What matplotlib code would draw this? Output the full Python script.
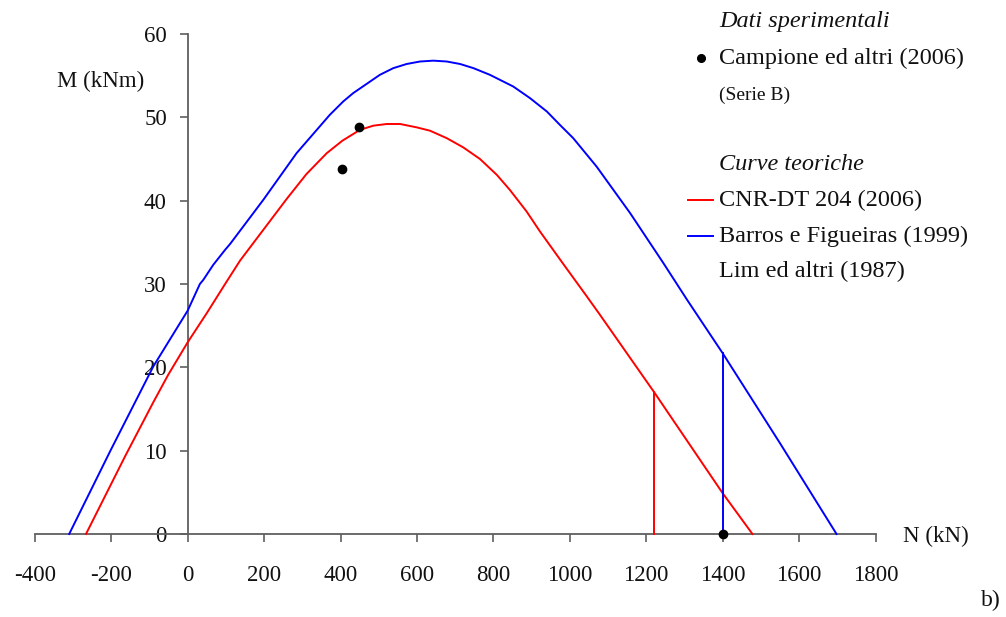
import matplotlib
matplotlib.use("Agg")
import matplotlib.pyplot as plt
from matplotlib.lines import Line2D

# Interaction domain M-N (axial force N in kN, bending moment M in kNm)
barros_N = [-310, -201, -90, 0, 32, 41, 67, 98, 111, 198, 285, 372, 407, 433,
            468, 503, 538, 573, 608, 643, 678, 713, 748, 791, 852, 896, 940,
            974, 1009, 1070, 1158, 1245, 1307, 1400, 1550, 1698]
barros_M = [0.0, 10.1, 20.1, 26.8, 30.0, 30.5, 32.3, 34.1, 34.8, 40.1, 45.7,
            50.3, 51.9, 52.9, 54.0, 55.1, 55.9, 56.4, 56.7, 56.8, 56.7, 56.4,
            55.9, 55.1, 53.7, 52.3, 50.7, 49.1, 47.5, 44.1, 38.5, 32.5, 28.1,
            21.7, 10.9, 0.0]

cnr_N = [-266, -164, -90, -51, 0, 50, 98, 137, 198, 259, 311, 364, 405, 451,
         486, 521, 556, 599, 634, 678, 721, 765, 809, 843, 887, 922, 983,
         1040, 1079, 1221, 1400, 1478]
cnr_M = [0.0, 9.3, 15.8, 19.1, 23.0, 26.5, 30.0, 32.8, 36.5, 40.2, 43.2,
         45.7, 47.2, 48.5, 49.0, 49.2, 49.2, 48.8, 48.4, 47.5, 46.4, 45.0,
         43.1, 41.3, 38.7, 36.3, 32.4, 28.8, 26.3, 17.0, 4.9, 0.0]

# Vertical cut-offs of the theoretical curves
cnr_cut_N, cnr_cut_M = 1221, 17.0
barros_cut_N, barros_cut_M = 1400, 21.7

# Experimental results, Campione et al. (2006), Serie B
exp_N = [404, 449, 1400]
exp_M = [43.8, 48.9, 0.0]

x_ticks = [-400, -200, 0, 200, 400, 600, 800, 1000, 1200, 1400, 1600, 1800]
y_ticks = [0, 10, 20, 30, 40, 50, 60]

RED = "#FF0000"
BLUE = "#0000FF"
AXC = "#5f5f5f"
TXT = "#111111"
SERIF = ["Liberation Serif", "DejaVu Serif"]

plt.rcParams["font.family"] = SERIF

W, H = 1006, 617
fig = plt.figure(figsize=(W / 100, H / 100), dpi=100)
ax = fig.add_axes([34.8 / W, (H - 534) / H, 840.7 / W, 500 / H])

ax.set_xlim(-400, 1800)
ax.set_ylim(0, 60)

ax.plot(cnr_N, cnr_M, color=RED, lw=1.4, clip_on=False, zorder=3)
ax.plot(barros_N, barros_M, color=BLUE, lw=1.4, clip_on=False, zorder=3)
ax.plot([cnr_cut_N, cnr_cut_N], [0, cnr_cut_M], color=RED, lw=1.4,
        clip_on=False, zorder=3)
ax.plot([barros_cut_N, barros_cut_N], [0, barros_cut_M], color=BLUE, lw=1.4,
        clip_on=False, zorder=3)
ax.plot(exp_N, exp_M, "o", color="black", ms=6, clip_on=False, zorder=4)

# Axes crossing at the origin
for side in ("top", "right"):
    ax.spines[side].set_visible(False)
ax.spines["left"].set_position(("data", 0))
ax.spines["bottom"].set_position(("data", 0))
for side in ("left", "bottom"):
    ax.spines[side].set_color(AXC)
    ax.spines[side].set_linewidth(1.3)

ax.set_xticks(x_ticks)
ax.set_yticks(y_ticks)
ax.set_xticklabels([str(v) for v in x_ticks])
ax.set_yticklabels([str(v) for v in y_ticks])
ax.tick_params(axis="x", direction="out", length=6, width=1.2, color=AXC,
               labelsize=16.5, pad=16, labelcolor=TXT)
ax.tick_params(axis="y", direction="out", length=6, width=1.2, color=AXC,
               labelsize=16.5, pad=9, labelcolor=TXT)


def px(x, y):
    return x / W, 1 - y / H


fig.text(*px(101, 81), "M (kNm)", fontsize=16.5, ha="center", va="center",
         color=TXT)
fig.text(*px(903, 536), "N (kN)", fontsize=16.5, ha="left", va="center",
         color=TXT)
fig.text(*px(991, 600), "b)", fontsize=17, ha="center", va="center",
         color=TXT)

# Legend block
lx = 719
fs = 17.5
fig.text(*px(lx, 22), "Dati sperimentali", fontsize=fs, style="italic",
         ha="left", va="center", color=TXT)
fig.text(*px(lx, 58), "Campione ed altri (2006)", fontsize=fs, ha="left",
         va="center", color=TXT)
fig.add_artist(Line2D([700.7 / W], [1 - 58 / H], marker="o", color="black",
                      ms=5.5, transform=fig.transFigure))
fig.text(*px(lx, 95), "(Serie B)", fontsize=14, ha="left", va="center",
         color=TXT)
fig.text(*px(lx, 164), "Curve teoriche", fontsize=fs, style="italic",
         ha="left", va="center", color=TXT)
fig.text(*px(lx, 200), "CNR-DT 204 (2006)", fontsize=fs, ha="left",
         va="center", color=TXT)
fig.add_artist(Line2D([688 / W, 713 / W], [1 - 200 / H] * 2, color=RED,
                      lw=1.4, transform=fig.transFigure))
fig.text(*px(lx, 236), "Barros e Figueiras (1999)", fontsize=fs, ha="left",
         va="center", color=TXT)
fig.add_artist(Line2D([688 / W, 713 / W], [1 - 236 / H] * 2, color=BLUE,
                      lw=1.4, transform=fig.transFigure))
fig.text(*px(lx, 271), "Lim ed altri (1987)", fontsize=fs, ha="left",
         va="center", color=TXT)

fig.savefig("out.png", dpi=100, facecolor="white")
